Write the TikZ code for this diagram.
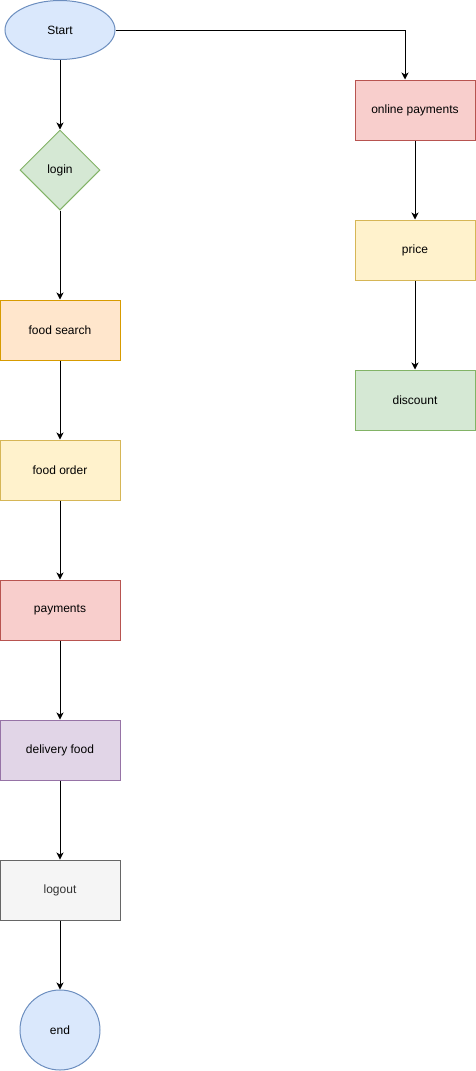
\documentclass[tikz,border=0pt]{standalone}
\usepackage{fontspec}
\setmainfont{Liberation Sans}
\usetikzlibrary{shapes.geometric,arrows.meta}
\definecolor{bluef}{HTML}{DAE8FC}\definecolor{blued}{HTML}{6C8EBF}
\definecolor{greenf}{HTML}{D5E8D4}\definecolor{greend}{HTML}{82B366}
\definecolor{orangef}{HTML}{FFE6CC}\definecolor{oranged}{HTML}{D79B00}
\definecolor{yellowf}{HTML}{FFF2CC}\definecolor{yellowd}{HTML}{D6B656}
\definecolor{redf}{HTML}{F8CECC}\definecolor{redd}{HTML}{B85450}
\definecolor{purplef}{HTML}{E1D5E7}\definecolor{purpled}{HTML}{9673A6}
\definecolor{grayf}{HTML}{F5F5F5}\definecolor{grayd}{HTML}{666666}
\definecolor{grayt}{HTML}{333333}
\begin{document}
\begin{tikzpicture}[x=1pt,y=-1pt,
  every node/.style={font=\fontsize{12}{14}\selectfont, inner sep=0pt, line width=1pt},
  box/.style={rectangle, minimum width=120pt, minimum height=60pt},
  arr/.style={draw=black, line width=1pt, -{Stealth[length=7pt,width=7pt,inset=2pt]}}]
\useasboundingbox (0,0) rectangle (476,1071);
\node[ellipse, draw=blued, fill=bluef, minimum width=110pt, minimum height=59pt] (start) at (60,30) {Start};
\node[diamond, draw=greend, fill=greenf, minimum width=80pt, minimum height=80pt] (login) at (60,170) {login};
\node[box, draw=oranged, fill=orangef] (search) at (60,330) {food search};
\node[box, draw=yellowd, fill=yellowf] (order) at (60,470) {food order};
\node[box, draw=redd, fill=redf] (pay) at (60,610) {payments};
\node[box, draw=purpled, fill=purplef] (deliv) at (60,750) {delivery food};
\node[box, draw=grayd, fill=grayf, text=grayt] (logout) at (60,890) {logout};
\node[circle, draw=blued, fill=bluef, minimum size=80pt] (end) at (60,1030) {end};
\node[box, draw=redd, fill=redf] (online) at (415,110) {online payments};
\node[box, draw=yellowd, fill=yellowf] (price) at (415,250) {price};
\node[box, draw=greend, fill=greenf] (disc) at (415,400) {discount};
\coordinate (c1) at (405,30);
\draw[arr] (start) -- (login);
\draw[arr] (login) -- (search);
\draw[arr] (search) -- (order);
\draw[arr] (order) -- (pay);
\draw[arr] (pay) -- (deliv);
\draw[arr] (deliv) -- (logout);
\draw[arr] (logout) -- (end);
\draw[arr] (start.east) -- (c1) -- (online.north -| c1);
\draw[arr] (online) -- (price);
\draw[arr] (price) -- (disc);
\end{tikzpicture}
\end{document}
